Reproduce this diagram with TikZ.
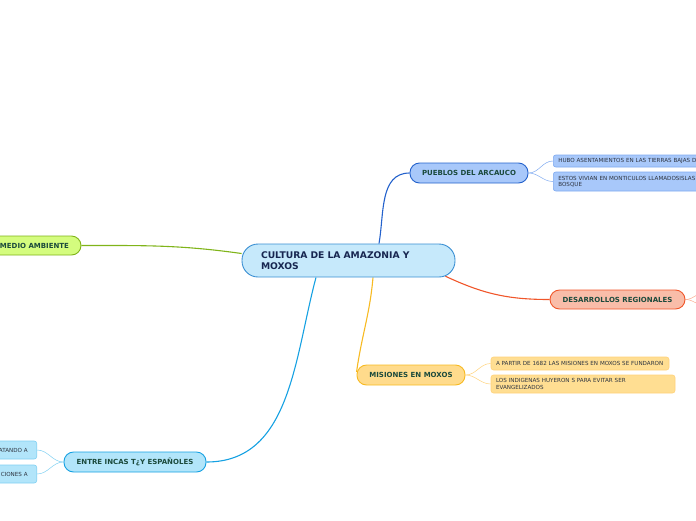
\documentclass[tikz,border=0pt]{standalone}
\usepackage{fontspec}
\setmainfont{DejaVu Sans}
\usetikzlibrary{backgrounds}

\definecolor{centralFill}{HTML}{C6E9FB}
\definecolor{centralLine}{HTML}{3A8FD3}
\definecolor{centralText}{HTML}{172650}
\definecolor{branchText}{HTML}{1B4A3C}
\definecolor{leafText}{HTML}{2E3440}
\definecolor{puebFill}{HTML}{A8C8FA}
\definecolor{puebLine}{HTML}{2462CC}
\definecolor{puebTwig}{HTML}{7FAAF0}
\definecolor{medFill}{HTML}{D4FC7E}
\definecolor{medLine}{HTML}{80B41A}
\definecolor{desFill}{HTML}{F9BDA9}
\definecolor{desLine}{HTML}{F0562A}
\definecolor{desTwig}{HTML}{F9A88C}
\definecolor{misFill}{HTML}{FFDB8C}
\definecolor{misLeaf}{HTML}{FFDE92}
\definecolor{misLine}{HTML}{F7BA22}
\definecolor{misTwig}{HTML}{FFD27A}
\definecolor{entFill}{HTML}{B2E5FA}
\definecolor{entLine}{HTML}{16A1E2}
\definecolor{entTwig}{HTML}{80D0F2}

\begin{document}
\begin{tikzpicture}[x=1pt,y=1pt,
    topic/.style={draw=centralLine, fill=centralFill, line width=0.9pt, rounded corners=16pt,
        minimum width=213pt, minimum height=33pt, text width=175pt, inner xsep=19pt, align=left,
        font=\bfseries\fontsize{9.2}{11}\selectfont, text=centralText},
    branch/.style={line width=0.9pt, rounded corners=9.5pt, minimum height=20pt, inner sep=0pt,
        font=\bfseries\fontsize{7}{8}\selectfont, text=branchText},
    leaf/.style={line width=0.6pt, rounded corners=2.5pt, inner xsep=5pt, inner ysep=0pt, align=left,
        font=\fontsize{5.6}{6.4}\selectfont, text=leafText},
    link/.style={line width=1.1pt},
    twig/.style={line width=0.5pt}]

\useasboundingbox (0,0) rectangle (696,-520);
\clip (0,0) rectangle (696,-520);

% Central topic
\node (central) at (348.5,-260.5) [topic] {CULTURA DE LA AMAZONIA Y\\MOXOS};

% Main branches
\node (pueblos) at (469,-173) [branch, draw=puebLine, fill=puebFill, minimum width=118pt] {PUEBLOS DEL ARCAUCO};
\node (medio) at (34.5,-245.5) [branch, draw=medLine, fill=medFill, minimum width=93pt, minimum height=19pt] {MEDIO AMBIENTE};
\node (desarrollos) at (617.5,-299.5) [branch, draw=desLine, fill=desFill, minimum width=135pt, minimum height=19pt] {DESARROLLOS REGIONALES};
\node (misiones) at (411,-375) [branch, draw=misLine, fill=misFill, minimum width=108pt] {MISIONES EN MOXOS};
\node (entre) at (135,-462) [branch, draw=entLine, fill=entFill, minimum width=142pt] {ENTRE INCAS T¿Y ESPAÑOLES};

% Leaves
\node (pueblosA) at (553,-161) [leaf, anchor=west, draw=puebTwig, fill=puebFill, minimum height=12pt, text width=150pt] {HUBO ASENTAMIENTOS EN LAS TIERRAS BAJAS D};
\node (pueblosB) at (553,-181.5) [leaf, anchor=west, draw=puebTwig, fill=puebFill, minimum height=19pt, text width=150pt] {ESTOS VIVIAN EN MONTICULOS LLAMADOSISLAS\\BOSQUE};
\node (misionesA) at (580,-363.5) [leaf, draw=misTwig, fill=misLeaf, minimum height=13pt, text width=168pt] {A PARTIR DE 1682 LAS MISIONES EN MOXOS SE FUNDARON};
\node (misionesB) at (583,-384) [leaf, draw=misTwig, fill=misLeaf, minimum height=18pt, text width=174pt] {LOS INDIGENAS HUYERON S PARA EVITAR SER\\EVANGELIZADOS};
\node (entreA) at (37,-450) [leaf, anchor=east, draw=entTwig, fill=entFill, minimum height=18pt, text width=55pt, inner xsep=9pt, align=right] {ATANDO A};
\node (entreB) at (37,-474) [leaf, anchor=east, draw=entTwig, fill=entFill, minimum height=18pt, text width=55pt, inner xsep=9pt, align=right] {CIONES A};

% Loose ends of the cut-off branch
\coordinate (desA) at (706,-292);
\coordinate (desB) at (706,-306);

% Connectors
\begin{scope}[on background layer]
\clip (0,0) rectangle (696,-520);
\draw[link, puebLine] ([xshift=30.5pt]central.north) to[out=80,in=180] (pueblos.west);
\draw[link, medLine] (medio.east) to[out=0,in=172] ([yshift=7pt]central.west);
\draw[link, desLine] ([xshift=-10pt,yshift=1.2pt]central.south east) to[out=-25,in=180] (desarrollos.west);
\draw[link, misLine] ([xshift=24.5pt]central.south) to[out=-95,in=82] ([yshift=3pt]misiones.west);
\draw[link, entLine] ([xshift=-32.5pt]central.south) to[out=-105,in=0] (entre.east);

\draw[twig, puebTwig] (pueblos.east) to[out=0,in=180] (pueblosA.west);
\draw[twig, puebTwig] (pueblos.east) to[out=0,in=180] (pueblosB.west);
\draw[twig, misTwig] (misiones.east) to[out=0,in=180] (misionesA.west);
\draw[twig, misTwig] (misiones.east) to[out=0,in=180] (misionesB.west);
\draw[twig, entTwig] (entre.west) to[out=180,in=0] (entreA.east);
\draw[twig, entTwig] (entre.west) to[out=180,in=0] (entreB.east);
\draw[twig, desTwig] (desarrollos.east) to[out=0,in=180] (desA);
\draw[twig, desTwig] (desarrollos.east) to[out=0,in=180] (desB);
\end{scope}

\end{tikzpicture}
\end{document}
